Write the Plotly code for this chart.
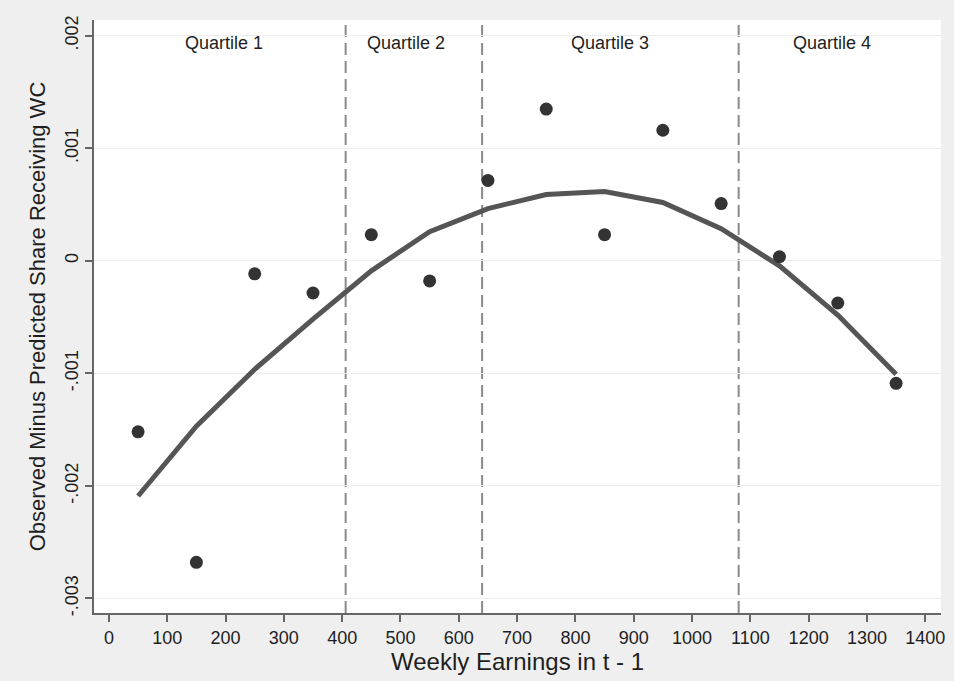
import plotly.graph_objects as go

earnings_bins = [50, 150, 250, 350, 450, 550, 650, 750, 850, 950, 1050, 1150, 1250, 1350]
observed_minus_predicted = [-0.00152, -0.00268, -0.000116, -0.000286, 0.000232, -0.000179,
                            0.000714, 0.001348, 0.000232, 0.00116, 0.000509, 0.000036,
                            -0.000375, -0.001089]
fitted_curve = [-0.00209, -0.00147, -0.000964, -0.000518, -0.000089, 0.000259, 0.000464,
                0.000589, 0.000616, 0.000518, 0.000286, -0.000045, -0.000482, -0.001009]
quartile_cutoffs = [406, 640, 1080]
quartile_labels = ["Quartile 1", "Quartile 2", "Quartile 3", "Quartile 4"]
quartile_label_x = [198, 510, 859, 1240]
x_ticks = list(range(0, 1401, 100))
y_ticks = [-0.003, -0.002, -0.001, 0, 0.001, 0.002]
y_tick_text = ["-.003", "-.002", "-.001", "0", ".001", ".002"]

FONT = "Liberation Sans, Arial, sans-serif"

fig = go.Figure()
fig.add_trace(go.Scatter(
    x=earnings_bins, y=fitted_curve, mode="lines",
    line=dict(color="#555555", width=5), showlegend=False, hoverinfo="skip"))
fig.add_trace(go.Scatter(
    x=earnings_bins, y=observed_minus_predicted, mode="markers",
    marker=dict(color="#333333", size=13), showlegend=False))

for c in quartile_cutoffs:
    fig.add_shape(type="line", x0=c, x1=c, xref="x", y0=0, y1=1, yref="paper",
                  line=dict(color="#8a8a8a", width=2, dash="12px,6px"), layer="below")

for lx, lab in zip(quartile_label_x, quartile_labels):
    fig.add_annotation(x=lx, y=0.00194, xref="x", yref="y", text=lab, showarrow=False,
                       font=dict(family=FONT, size=18, color="#1e1e1e"))

fig.update_layout(
    width=954, height=681,
    paper_bgcolor="#efefef", plot_bgcolor="#ffffff",
    margin=dict(l=94, r=9, t=20, b=68),
    font=dict(family=FONT, size=18, color="#1e1e1e"),
    xaxis=dict(range=[-25.6, 1427], tickvals=x_ticks, ticks="outside", ticklen=7,
               tickwidth=2, tickcolor="#666666", showline=True, linecolor="#666666",
               linewidth=2, showgrid=False, zeroline=False,
               title=dict(text="Weekly Earnings in t - 1", font=dict(size=24), standoff=6),
               tickfont=dict(size=18)),
    yaxis=dict(range=[-0.00313, 0.00214], tickvals=y_ticks, ticktext=y_tick_text,
               tickangle=-90, ticks="outside", ticklen=7, tickwidth=2, tickcolor="#666666",
               showline=True, linecolor="#666666", linewidth=2,
               showgrid=True, gridcolor="#ececec", gridwidth=1, zeroline=False,
               title=dict(text="Observed Minus Predicted Share Receiving WC",
                          font=dict(size=22), standoff=10),
               tickfont=dict(size=18)),
)

fig.write_html("out.html", config={"displayModeBar": False},
               post_script="document.body.style.margin='0';document.body.style.padding='0';")
